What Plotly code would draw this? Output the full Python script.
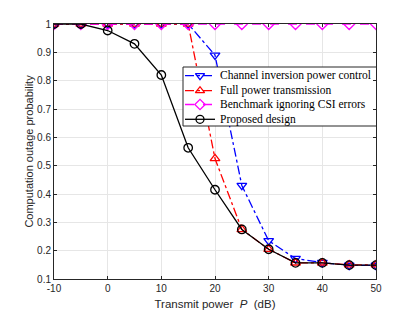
import plotly.graph_objects as go

x = [-10, -5, 0, 5, 10, 15, 20, 25, 30, 35, 40, 45, 50]
channel_inversion = [1, 1, 1, 1, 1, 1, 0.89, 0.43, 0.235, 0.172, 0.158, 0.148, 0.148]
full_power = [1, 1, 1, 1, 1, 1, 0.525, 0.275, 0.205, 0.157, 0.157, 0.150, 0.150]
benchmark = [1] * 13
proposed = [1, 1, 0.977, 0.93, 0.82, 0.563, 0.415, 0.275, 0.205, 0.157, 0.157, 0.149, 0.149]

xticks = [-10, 0, 10, 20, 30, 40, 50]
yticks = [0.1, 0.2, 0.3, 0.4, 0.5, 0.6, 0.7, 0.8, 0.9, 1.0]
yticklabels = ["0.1", "0.2", "0.3", "0.4", "0.5", "0.6", "0.7", "0.8", "0.9", "1"]

names = ["Channel inversion power control", "Full power transmission",
         "Benchmark ignoring CSI errors", "Proposed design"]
values = [channel_inversion, full_power, benchmark, proposed]
colors = ["#0000ff", "#ff0000", "#ff00ff", "#000000"]
dashes = ["dashdot", "dashdot", "dash", "solid"]
symbols = ["triangle-down-open", "triangle-up-open", "diamond-open", "circle-open"]

# page offset (browser body margin) compensation
OFF = 8
PAGE_W, PAGE_H = 415, 313
L, R, T, B = 54, 376, 24, 279          # plot area in page pixels
W, H = PAGE_W - OFF, PAGE_H - OFF

fig = go.Figure()
for name, y, c, d, m in zip(names, values, colors, dashes, symbols):
    fig.add_trace(go.Scatter(
        x=x, y=y, name=name, mode="lines+markers", showlegend=False,
        line=dict(color=c, width=1.3, dash=d),
        marker=dict(symbol=m, size=8.5, color=c, line=dict(width=1.3, color=c)),
    ))

# custom legend drawn on overlay axes in page-pixel coordinates
box_x0, box_x1, box_y0, box_y1 = 183, 377, 67, 126
row_y = [75.7, 90.7, 104.5, 119.3]
fig.add_trace(go.Scatter(
    x=[box_x0, box_x1, box_x1, box_x0, box_x0], y=[box_y0, box_y0, box_y1, box_y1, box_y0],
    xaxis="x2", yaxis="y2", mode="lines", fill="toself", fillcolor="white",
    line=dict(color="#262626", width=1), showlegend=False, hoverinfo="skip", cliponaxis=False))
for name, c, d, m, ry in zip(names, colors, dashes, symbols, row_y):
    fig.add_trace(go.Scatter(
        x=[185, 215], y=[ry, ry], xaxis="x2", yaxis="y2", mode="lines", showlegend=False,
        line=dict(color=c, width=1.3, dash=d), hoverinfo="skip", cliponaxis=False))
    fig.add_trace(go.Scatter(
        x=[200], y=[ry], xaxis="x2", yaxis="y2", mode="markers", showlegend=False,
        marker=dict(symbol=m, size=8, color=c, line=dict(width=1.3, color=c)),
        hoverinfo="skip", cliponaxis=False))
    fig.add_annotation(x=217.5, y=ry, xref="x2", yref="y2", text=name, showarrow=False,
                       xanchor="left", yanchor="middle",
                       font=dict(family="Liberation Serif, Times New Roman", size=11.5, color="#000000"))

axis_common = dict(
    showline=True, linecolor="#262626", linewidth=1, mirror="ticks",
    ticks="inside", ticklen=3, tickcolor="#262626", automargin=False,
    showgrid=True, gridcolor="#e6e6e6", gridwidth=1, zeroline=False,
    tickfont=dict(family="Liberation Sans, Arial", size=10, color="#262626"),
)
fig.update_xaxes(range=[-10, 50], tickvals=xticks, ticktext=[str(v) for v in xticks],
                 title=dict(text="Transmit power  <i>P</i>  (dB)", standoff=6,
                            font=dict(family="Liberation Sans, Arial", size=11.5, color="#262626")),
                 **axis_common)
fig.update_yaxes(range=[0.1, 1.0], tickvals=yticks, ticktext=yticklabels,
                 title=dict(text="Computation outage probability", standoff=1,
                            font=dict(family="Liberation Sans, Arial", size=11, color="#262626")),
                 **axis_common)

fig.update_layout(
    width=W, height=H,
    margin=dict(l=L - OFF, r=W - (R - OFF), t=T - OFF, b=H - (B - OFF)),
    paper_bgcolor="white", plot_bgcolor="white",
    showlegend=False,
    xaxis2=dict(overlaying="x", range=[L, R], visible=False, fixedrange=True),
    yaxis2=dict(overlaying="y", range=[B, T], visible=False, fixedrange=True),
)

fig.write_html("out.html")
